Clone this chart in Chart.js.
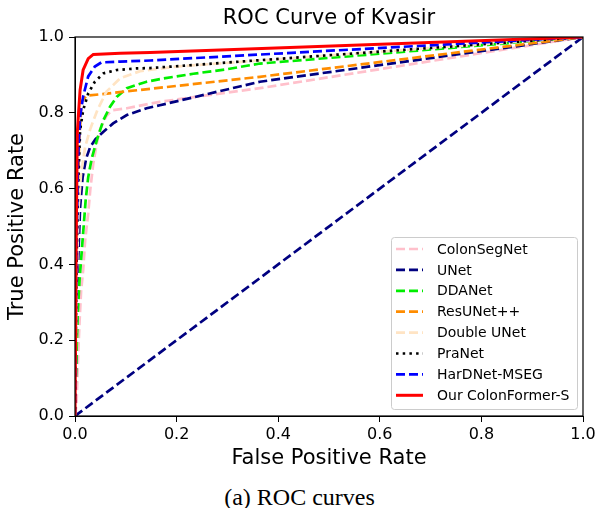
<!DOCTYPE html>
<html>
<head>
<meta charset="utf-8">
<script src="https://cdn.jsdelivr.net/npm/chart.js@4.4.1/dist/chart.umd.min.js"></script>
<style>
  html, body { margin: 0; padding: 0; background: #fff; }
  #wrap { position: relative; width: 599px; height: 508px; }
  #c { position: absolute; left: 0; top: 0; }
  #caption { position: absolute; left: 0; width: 599px; top: 485px; line-height: 24px; text-align: center;
    font-family: "Liberation Serif", "DejaVu Serif", serif; font-size: 24px; color: #000; }
</style>
</head>
<body>
<div id="wrap">
  <canvas id="c" width="599" height="475"></canvas>
  <div id="caption">(a) ROC curves</div>
</div>
<script>
// ---- data ----
const chartTitle = "ROC Curve of Kvasir";
const xAxisTitle = "False Positive Rate";
const yAxisTitle = "True Positive Rate";
const tickValues = [0, 0.2, 0.4, 0.6, 0.8, 1.0];

const seriesNames = ["ColonSegNet", "UNet", "DDANet", "ResUNet++", "Double UNet", "PraNet", "HarDNet-MSEG", "Our ColonFormer-S"];

const colonSegNetFpr = [0, 0.003, 0.0065, 0.009, 0.012, 0.016, 0.02, 0.026, 0.03, 0.036, 0.043, 0.049, 0.056, 0.062, 0.069, 0.075, 0.102, 0.167, 0.364, 1];
const colonSegNetTpr = [0, 0.03, 0.17, 0.25, 0.33, 0.385, 0.464, 0.535, 0.596, 0.667, 0.72, 0.755, 0.775, 0.792, 0.802, 0.807, 0.812, 0.829, 0.865, 1];

const uNetFpr = [0, 0.003, 0.006, 0.01, 0.015, 0.022, 0.03, 0.04, 0.056, 0.075, 0.102, 0.141, 0.167, 0.364, 1];
const uNetTpr = [0, 0.2, 0.4, 0.55, 0.63, 0.68, 0.71, 0.73, 0.75, 0.772, 0.794, 0.812, 0.82, 0.882, 1];

const ddaNetFpr = [0, 0.002, 0.005, 0.009, 0.013, 0.017, 0.021, 0.026, 0.033, 0.043, 0.056, 0.069, 0.082, 0.102, 0.141, 0.167, 0.233, 0.299, 0.364, 1];
const ddaNetTpr = [0, 0.12, 0.26, 0.36, 0.43, 0.5, 0.57, 0.63, 0.68, 0.728, 0.781, 0.816, 0.842, 0.865, 0.882, 0.889, 0.903, 0.915, 0.93, 1];

const resUNetFpr = [0, 0.004, 0.008, 0.013, 0.023, 0.364, 1];
const resUNetTpr = [0, 0.45, 0.72, 0.83, 0.845, 0.895, 1];

const doubleUNetFpr = [0, 0.003, 0.007, 0.012, 0.02, 0.03, 0.044, 0.062, 0.089, 0.128, 0.2, 1];
const doubleUNetTpr = [0, 0.35, 0.55, 0.64, 0.71, 0.757, 0.807, 0.856, 0.891, 0.91, 0.922, 1];

const praNetFpr = [0, 0.003, 0.006, 0.01, 0.016, 0.026, 0.039, 0.056, 0.082, 0.121, 0.148, 1];
const praNetTpr = [0, 0.4, 0.6, 0.754, 0.807, 0.851, 0.882, 0.904, 0.913, 0.917, 0.918, 1];

const harDNetFpr = [0, 0.003, 0.006, 0.01, 0.016, 0.026, 0.039, 0.052, 0.089, 0.148, 1];
const harDNetTpr = [0, 0.45, 0.68, 0.79, 0.843, 0.896, 0.922, 0.933, 0.935, 0.938, 1];

const colonFormerFpr = [0, 0.002, 0.0045, 0.0065, 0.01, 0.016, 0.026, 0.036, 0.089, 0.148, 1];
const colonFormerTpr = [0, 0.4, 0.746, 0.79, 0.86, 0.913, 0.943, 0.954, 0.957, 0.959, 1];

const chanceFpr = [0, 1];
const chanceTpr = [0, 1];

const seriesColors = ["#FFC0CB", "#000080", "#00EE00", "#FF8C00", "#FFE4C4", "#000000", "#0000FF", "#FF0000"];
const seriesDash = [[9, 4], [9, 4], [9, 4], [9, 4], [9, 4], [2.5, 4.2], [9, 4], []];

// ---- build datasets ----
const toPts = (xs, ys) => xs.map((x, i) => ({ x: x, y: ys[i] }));
const seriesFpr = [colonSegNetFpr, uNetFpr, ddaNetFpr, resUNetFpr, doubleUNetFpr, praNetFpr, harDNetFpr, colonFormerFpr];
const seriesTpr = [colonSegNetTpr, uNetTpr, ddaNetTpr, resUNetTpr, doubleUNetTpr, praNetTpr, harDNetTpr, colonFormerTpr];

const datasets = seriesNames.map((name, i) => ({
  label: name,
  data: toPts(seriesFpr[i], seriesTpr[i]),
  borderColor: seriesColors[i],
  backgroundColor: seriesColors[i],
  borderDash: seriesDash[i],
  borderWidth: i === 7 ? 3 : 2.7,
  pointRadius: 0,
  fill: false,
  tension: 0,
  order: 7 - i
}));
datasets.push({
  label: "_chance",
  data: toPts(chanceFpr, chanceTpr),
  borderColor: "#000080",
  borderDash: [9, 4],
  borderWidth: 2.7,
  pointRadius: 0,
  fill: false,
  tension: 0,
  order: 9
});

const FONT = "'DejaVu Sans', sans-serif";

const framePlugin = {
  id: 'frame',
  afterDatasetsDraw(chart) {
    const { ctx, chartArea: a } = chart;
    ctx.save();
    ctx.strokeStyle = '#000';
    ctx.lineWidth = 1.2;
    ctx.strokeRect(a.left, a.top, a.right - a.left, a.bottom - a.top);
    ctx.restore();
  },
  afterDraw(chart) {
    const { ctx, chartArea: a } = chart;
    ctx.save();
    // title
    ctx.fillStyle = '#000';
    ctx.font = "21px " + FONT;
    ctx.textAlign = 'center';
    ctx.textBaseline = 'middle';
    ctx.fillText(chartTitle, (a.left + a.right) / 2, 19);
    // legend
    const bx = 391, by = 237, bw = 186, bh = 172;
    ctx.fillStyle = 'rgba(255,255,255,0.85)';
    ctx.strokeStyle = '#cccccc';
    ctx.lineWidth = 1;
    ctx.beginPath();
    ctx.roundRect(bx + 0.5, by + 0.5, bw, bh, 3);
    ctx.fill();
    ctx.stroke();
    ctx.font = "14px " + FONT;
    ctx.textAlign = 'left';
    seriesNames.forEach((name, i) => {
      const y = 249 + i * 20.9;
      ctx.strokeStyle = seriesColors[i];
      ctx.lineWidth = i === 7 ? 3 : 2.7;
      ctx.setLineDash(seriesDash[i]);
      ctx.beginPath();
      ctx.moveTo(396, y);
      ctx.lineTo(423, y);
      ctx.stroke();
      ctx.setLineDash([]);
      ctx.fillStyle = '#000';
      ctx.fillText(name, 437, y + 1);
    });
    ctx.restore();
  }
};

new Chart(document.getElementById('c'), {
  type: 'line',
  data: { datasets: datasets },
  plugins: [framePlugin],
  options: {
    responsive: false,
    animation: false,
    layout: { padding: { top: 37, right: 16, left: 0, bottom: 0 } },
    plugins: { legend: { display: false }, title: { display: false }, tooltip: { enabled: false } },
    scales: {
      x: {
        type: 'linear', min: 0, max: 1,
        afterBuildTicks(s) { s.ticks = tickValues.map(v => ({ value: v })); },
        afterFit(s) { s.height = 475 - 416; },
        ticks: { color: '#000', font: { family: FONT, size: 16 }, padding: 3, maxRotation: 0,
          callback: v => Number(v).toFixed(1) },
        grid: { display: true, drawOnChartArea: false, drawTicks: true, tickLength: 6, color: '#000', lineWidth: 1 },
        border: { display: true, color: '#000' },
        title: { display: true, text: xAxisTitle, color: '#000', font: { family: FONT, size: 21 }, padding: { top: 0, bottom: 4 } }
      },
      y: {
        type: 'linear', min: 0, max: 1,
        afterBuildTicks(s) { s.ticks = tickValues.map(v => ({ value: v })); },
        afterFit(s) { s.width = 75; },
        ticks: { color: '#000', font: { family: FONT, size: 16 }, padding: 5,
          callback: v => Number(v).toFixed(1) },
        grid: { display: true, drawOnChartArea: false, drawTicks: true, tickLength: 6, color: '#000', lineWidth: 1 },
        border: { display: true, color: '#000' },
        title: { display: true, text: yAxisTitle, color: '#000', font: { family: FONT, size: 21 }, padding: { top: 5, bottom: 0 } }
      }
    }
  }
});
</script>
</body>
</html>
